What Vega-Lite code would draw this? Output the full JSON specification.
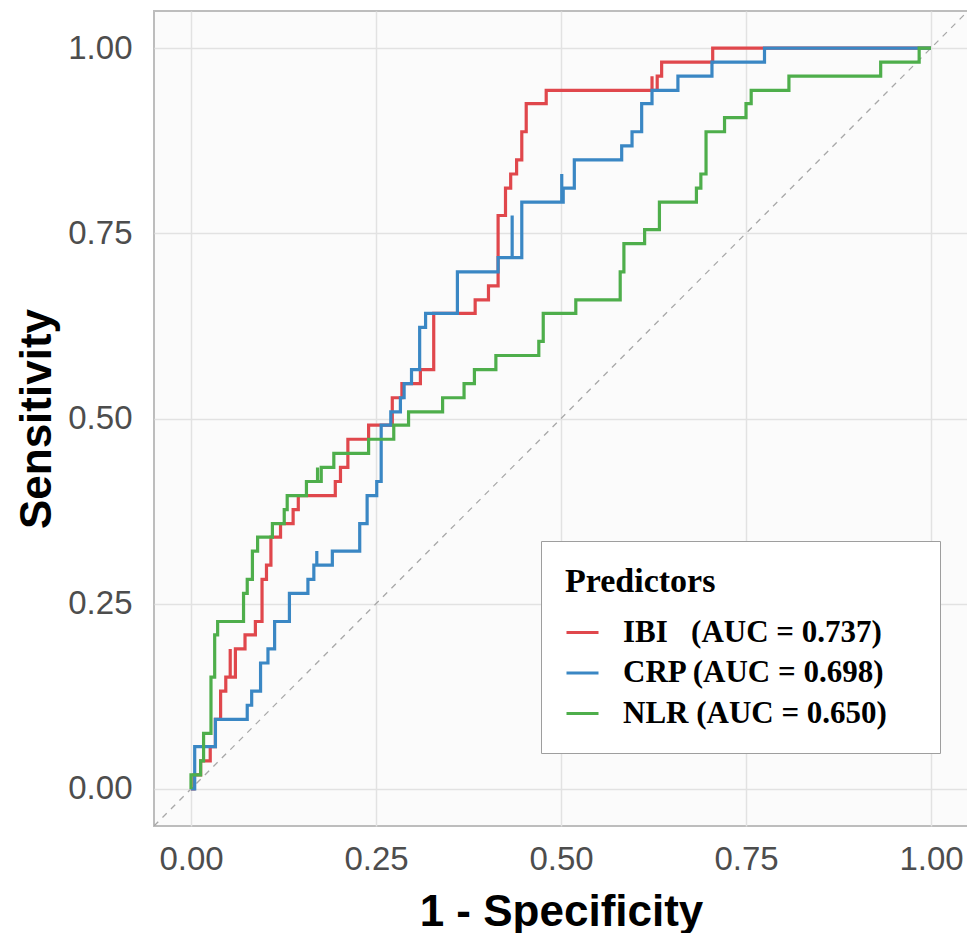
{
  "$schema": "https://vega.github.io/schema/vega-lite/v6.json",
  "width": 814,
  "height": 815,
  "autosize": "none",
  "padding": {"left": 154, "top": 11, "right": 0, "bottom": 107},
  "background": "white",
  "config": {
    "view": {"stroke": "#bdbdbd", "strokeWidth": 2, "fill": "#fbfbfb"},
    "font": "Liberation Sans"
  },
  "datasets": {
    "diag": [{"x": -0.05, "y": -0.05, "x2": 1.05, "y2": 1.05}],
    "roc": [
      {"p":"IBI","i":0,"x":0,"y":0},{"p":"IBI","i":1,"x":0.004,"y":0},{"p":"IBI","i":2,"x":0.004,"y":0.019},{"p":"IBI","i":3,"x":0.013,"y":0.019},{"p":"IBI","i":4,"x":0.013,"y":0.038},{"p":"IBI","i":5,"x":0.026,"y":0.038},{"p":"IBI","i":6,"x":0.026,"y":0.057},{"p":"IBI","i":7,"x":0.033,"y":0.057},{"p":"IBI","i":8,"x":0.033,"y":0.094},{"p":"IBI","i":9,"x":0.040,"y":0.094},{"p":"IBI","i":10,"x":0.040,"y":0.132},{"p":"IBI","i":11,"x":0.047,"y":0.132},{"p":"IBI","i":12,"x":0.047,"y":0.151},{"p":"IBI","i":13,"x":0.053,"y":0.151},{"p":"IBI","i":14,"x":0.053,"y":0.189},{"p":"IBI","i":15,"x":0.053,"y":0.151},{"p":"IBI","i":16,"x":0.060,"y":0.151},{"p":"IBI","i":17,"x":0.060,"y":0.189},{"p":"IBI","i":18,"x":0.073,"y":0.189},{"p":"IBI","i":19,"x":0.073,"y":0.208},{"p":"IBI","i":20,"x":0.087,"y":0.208},{"p":"IBI","i":21,"x":0.087,"y":0.226},{"p":"IBI","i":22,"x":0.096,"y":0.226},{"p":"IBI","i":23,"x":0.096,"y":0.283},{"p":"IBI","i":24,"x":0.102,"y":0.283},{"p":"IBI","i":25,"x":0.102,"y":0.302},{"p":"IBI","i":26,"x":0.108,"y":0.302},{"p":"IBI","i":27,"x":0.108,"y":0.340},{"p":"IBI","i":28,"x":0.121,"y":0.340},{"p":"IBI","i":29,"x":0.121,"y":0.358},{"p":"IBI","i":30,"x":0.138,"y":0.358},{"p":"IBI","i":31,"x":0.138,"y":0.377},{"p":"IBI","i":32,"x":0.145,"y":0.377},{"p":"IBI","i":33,"x":0.145,"y":0.396},{"p":"IBI","i":34,"x":0.195,"y":0.396},{"p":"IBI","i":35,"x":0.195,"y":0.415},{"p":"IBI","i":36,"x":0.202,"y":0.415},{"p":"IBI","i":37,"x":0.202,"y":0.434},{"p":"IBI","i":38,"x":0.212,"y":0.434},{"p":"IBI","i":39,"x":0.212,"y":0.472},{"p":"IBI","i":40,"x":0.240,"y":0.472},{"p":"IBI","i":41,"x":0.240,"y":0.491},{"p":"IBI","i":42,"x":0.272,"y":0.491},{"p":"IBI","i":43,"x":0.272,"y":0.528},{"p":"IBI","i":44,"x":0.285,"y":0.528},{"p":"IBI","i":45,"x":0.285,"y":0.547},{"p":"IBI","i":46,"x":0.310,"y":0.547},{"p":"IBI","i":47,"x":0.310,"y":0.566},{"p":"IBI","i":48,"x":0.328,"y":0.566},{"p":"IBI","i":49,"x":0.328,"y":0.642},{"p":"IBI","i":50,"x":0.384,"y":0.642},{"p":"IBI","i":51,"x":0.384,"y":0.660},{"p":"IBI","i":52,"x":0.402,"y":0.660},{"p":"IBI","i":53,"x":0.402,"y":0.679},{"p":"IBI","i":54,"x":0.415,"y":0.679},{"p":"IBI","i":55,"x":0.415,"y":0.774},{"p":"IBI","i":56,"x":0.425,"y":0.774},{"p":"IBI","i":57,"x":0.425,"y":0.811},{"p":"IBI","i":58,"x":0.432,"y":0.811},{"p":"IBI","i":59,"x":0.432,"y":0.830},{"p":"IBI","i":60,"x":0.440,"y":0.830},{"p":"IBI","i":61,"x":0.440,"y":0.849},{"p":"IBI","i":62,"x":0.447,"y":0.849},{"p":"IBI","i":63,"x":0.447,"y":0.887},{"p":"IBI","i":64,"x":0.453,"y":0.887},{"p":"IBI","i":65,"x":0.453,"y":0.925},{"p":"IBI","i":66,"x":0.480,"y":0.925},{"p":"IBI","i":67,"x":0.480,"y":0.943},{"p":"IBI","i":68,"x":0.623,"y":0.943},{"p":"IBI","i":69,"x":0.623,"y":0.962},{"p":"IBI","i":70,"x":0.623,"y":0.943},{"p":"IBI","i":71,"x":0.630,"y":0.943},{"p":"IBI","i":72,"x":0.630,"y":0.962},{"p":"IBI","i":73,"x":0.636,"y":0.962},{"p":"IBI","i":74,"x":0.636,"y":0.981},{"p":"IBI","i":75,"x":0.705,"y":0.981},{"p":"IBI","i":76,"x":0.705,"y":1.0},{"p":"IBI","i":77,"x":1.0,"y":1.0},
      {"p":"CRP","i":0,"x":0,"y":0},{"p":"CRP","i":1,"x":0.005,"y":0},{"p":"CRP","i":2,"x":0.005,"y":0.057},{"p":"CRP","i":3,"x":0.033,"y":0.057},{"p":"CRP","i":4,"x":0.033,"y":0.094},{"p":"CRP","i":5,"x":0.076,"y":0.094},{"p":"CRP","i":6,"x":0.076,"y":0.113},{"p":"CRP","i":7,"x":0.082,"y":0.113},{"p":"CRP","i":8,"x":0.082,"y":0.132},{"p":"CRP","i":9,"x":0.094,"y":0.132},{"p":"CRP","i":10,"x":0.094,"y":0.170},{"p":"CRP","i":11,"x":0.104,"y":0.170},{"p":"CRP","i":12,"x":0.104,"y":0.189},{"p":"CRP","i":13,"x":0.113,"y":0.189},{"p":"CRP","i":14,"x":0.113,"y":0.226},{"p":"CRP","i":15,"x":0.133,"y":0.226},{"p":"CRP","i":16,"x":0.133,"y":0.264},{"p":"CRP","i":17,"x":0.158,"y":0.264},{"p":"CRP","i":18,"x":0.158,"y":0.283},{"p":"CRP","i":19,"x":0.166,"y":0.283},{"p":"CRP","i":20,"x":0.166,"y":0.302},{"p":"CRP","i":21,"x":0.170,"y":0.302},{"p":"CRP","i":22,"x":0.170,"y":0.321},{"p":"CRP","i":23,"x":0.170,"y":0.302},{"p":"CRP","i":24,"x":0.191,"y":0.302},{"p":"CRP","i":25,"x":0.191,"y":0.321},{"p":"CRP","i":26,"x":0.228,"y":0.321},{"p":"CRP","i":27,"x":0.228,"y":0.358},{"p":"CRP","i":28,"x":0.238,"y":0.358},{"p":"CRP","i":29,"x":0.238,"y":0.396},{"p":"CRP","i":30,"x":0.251,"y":0.396},{"p":"CRP","i":31,"x":0.251,"y":0.415},{"p":"CRP","i":32,"x":0.257,"y":0.415},{"p":"CRP","i":33,"x":0.257,"y":0.491},{"p":"CRP","i":34,"x":0.270,"y":0.491},{"p":"CRP","i":35,"x":0.270,"y":0.509},{"p":"CRP","i":36,"x":0.283,"y":0.509},{"p":"CRP","i":37,"x":0.283,"y":0.528},{"p":"CRP","i":38,"x":0.288,"y":0.528},{"p":"CRP","i":39,"x":0.288,"y":0.547},{"p":"CRP","i":40,"x":0.298,"y":0.547},{"p":"CRP","i":41,"x":0.298,"y":0.566},{"p":"CRP","i":42,"x":0.309,"y":0.566},{"p":"CRP","i":43,"x":0.309,"y":0.623},{"p":"CRP","i":44,"x":0.317,"y":0.623},{"p":"CRP","i":45,"x":0.317,"y":0.642},{"p":"CRP","i":46,"x":0.360,"y":0.642},{"p":"CRP","i":47,"x":0.360,"y":0.698},{"p":"CRP","i":48,"x":0.415,"y":0.698},{"p":"CRP","i":49,"x":0.415,"y":0.717},{"p":"CRP","i":50,"x":0.434,"y":0.717},{"p":"CRP","i":51,"x":0.434,"y":0.774},{"p":"CRP","i":52,"x":0.434,"y":0.717},{"p":"CRP","i":53,"x":0.447,"y":0.717},{"p":"CRP","i":54,"x":0.447,"y":0.792},{"p":"CRP","i":55,"x":0.501,"y":0.792},{"p":"CRP","i":56,"x":0.501,"y":0.830},{"p":"CRP","i":57,"x":0.501,"y":0.792},{"p":"CRP","i":58,"x":0.503,"y":0.792},{"p":"CRP","i":59,"x":0.503,"y":0.811},{"p":"CRP","i":60,"x":0.518,"y":0.811},{"p":"CRP","i":61,"x":0.518,"y":0.849},{"p":"CRP","i":62,"x":0.582,"y":0.849},{"p":"CRP","i":63,"x":0.582,"y":0.868},{"p":"CRP","i":64,"x":0.596,"y":0.868},{"p":"CRP","i":65,"x":0.596,"y":0.887},{"p":"CRP","i":66,"x":0.609,"y":0.887},{"p":"CRP","i":67,"x":0.609,"y":0.925},{"p":"CRP","i":68,"x":0.623,"y":0.925},{"p":"CRP","i":69,"x":0.623,"y":0.943},{"p":"CRP","i":70,"x":0.658,"y":0.943},{"p":"CRP","i":71,"x":0.658,"y":0.962},{"p":"CRP","i":72,"x":0.704,"y":0.962},{"p":"CRP","i":73,"x":0.704,"y":0.981},{"p":"CRP","i":74,"x":0.775,"y":0.981},{"p":"CRP","i":75,"x":0.775,"y":1.0},{"p":"CRP","i":76,"x":1.0,"y":1.0},
      {"p":"NLR","i":0,"x":0,"y":0},{"p":"NLR","i":1,"x":0,"y":0.019},{"p":"NLR","i":2,"x":0.013,"y":0.019},{"p":"NLR","i":3,"x":0.013,"y":0.038},{"p":"NLR","i":4,"x":0.017,"y":0.038},{"p":"NLR","i":5,"x":0.017,"y":0.075},{"p":"NLR","i":6,"x":0.027,"y":0.075},{"p":"NLR","i":7,"x":0.027,"y":0.151},{"p":"NLR","i":8,"x":0.032,"y":0.151},{"p":"NLR","i":9,"x":0.032,"y":0.208},{"p":"NLR","i":10,"x":0.036,"y":0.208},{"p":"NLR","i":11,"x":0.036,"y":0.226},{"p":"NLR","i":12,"x":0.071,"y":0.226},{"p":"NLR","i":13,"x":0.071,"y":0.264},{"p":"NLR","i":14,"x":0.076,"y":0.264},{"p":"NLR","i":15,"x":0.076,"y":0.283},{"p":"NLR","i":16,"x":0.083,"y":0.283},{"p":"NLR","i":17,"x":0.083,"y":0.321},{"p":"NLR","i":18,"x":0.090,"y":0.321},{"p":"NLR","i":19,"x":0.090,"y":0.340},{"p":"NLR","i":20,"x":0.110,"y":0.340},{"p":"NLR","i":21,"x":0.110,"y":0.358},{"p":"NLR","i":22,"x":0.126,"y":0.358},{"p":"NLR","i":23,"x":0.126,"y":0.377},{"p":"NLR","i":24,"x":0.130,"y":0.377},{"p":"NLR","i":25,"x":0.130,"y":0.396},{"p":"NLR","i":26,"x":0.156,"y":0.396},{"p":"NLR","i":27,"x":0.156,"y":0.415},{"p":"NLR","i":28,"x":0.171,"y":0.415},{"p":"NLR","i":29,"x":0.171,"y":0.434},{"p":"NLR","i":30,"x":0.171,"y":0.415},{"p":"NLR","i":31,"x":0.176,"y":0.415},{"p":"NLR","i":32,"x":0.176,"y":0.434},{"p":"NLR","i":33,"x":0.193,"y":0.434},{"p":"NLR","i":34,"x":0.193,"y":0.453},{"p":"NLR","i":35,"x":0.240,"y":0.453},{"p":"NLR","i":36,"x":0.240,"y":0.472},{"p":"NLR","i":37,"x":0.274,"y":0.472},{"p":"NLR","i":38,"x":0.274,"y":0.491},{"p":"NLR","i":39,"x":0.294,"y":0.491},{"p":"NLR","i":40,"x":0.294,"y":0.509},{"p":"NLR","i":41,"x":0.340,"y":0.509},{"p":"NLR","i":42,"x":0.340,"y":0.528},{"p":"NLR","i":43,"x":0.369,"y":0.528},{"p":"NLR","i":44,"x":0.369,"y":0.547},{"p":"NLR","i":45,"x":0.383,"y":0.547},{"p":"NLR","i":46,"x":0.383,"y":0.566},{"p":"NLR","i":47,"x":0.412,"y":0.566},{"p":"NLR","i":48,"x":0.412,"y":0.585},{"p":"NLR","i":49,"x":0.470,"y":0.585},{"p":"NLR","i":50,"x":0.470,"y":0.604},{"p":"NLR","i":51,"x":0.476,"y":0.604},{"p":"NLR","i":52,"x":0.476,"y":0.642},{"p":"NLR","i":53,"x":0.520,"y":0.642},{"p":"NLR","i":54,"x":0.520,"y":0.660},{"p":"NLR","i":55,"x":0.580,"y":0.660},{"p":"NLR","i":56,"x":0.580,"y":0.698},{"p":"NLR","i":57,"x":0.585,"y":0.698},{"p":"NLR","i":58,"x":0.585,"y":0.736},{"p":"NLR","i":59,"x":0.613,"y":0.736},{"p":"NLR","i":60,"x":0.613,"y":0.755},{"p":"NLR","i":61,"x":0.633,"y":0.755},{"p":"NLR","i":62,"x":0.633,"y":0.792},{"p":"NLR","i":63,"x":0.683,"y":0.792},{"p":"NLR","i":64,"x":0.683,"y":0.811},{"p":"NLR","i":65,"x":0.689,"y":0.811},{"p":"NLR","i":66,"x":0.689,"y":0.830},{"p":"NLR","i":67,"x":0.696,"y":0.830},{"p":"NLR","i":68,"x":0.696,"y":0.887},{"p":"NLR","i":69,"x":0.721,"y":0.887},{"p":"NLR","i":70,"x":0.721,"y":0.906},{"p":"NLR","i":71,"x":0.750,"y":0.906},{"p":"NLR","i":72,"x":0.750,"y":0.925},{"p":"NLR","i":73,"x":0.757,"y":0.925},{"p":"NLR","i":74,"x":0.757,"y":0.943},{"p":"NLR","i":75,"x":0.808,"y":0.943},{"p":"NLR","i":76,"x":0.808,"y":0.962},{"p":"NLR","i":77,"x":0.932,"y":0.962},{"p":"NLR","i":78,"x":0.932,"y":0.981},{"p":"NLR","i":79,"x":0.984,"y":0.981},{"p":"NLR","i":80,"x":0.984,"y":1.0},{"p":"NLR","i":81,"x":1.0,"y":1.0}
    ]
  },
  "encoding": {
    "x": {
      "field": "x", "type": "quantitative",
      "scale": {"domain": [-0.05, 1.05], "nice": false, "zero": false},
      "axis": {
        "values": [0, 0.25, 0.5, 0.75, 1], "format": ".2f", "title": "1 - Specificity",
        "grid": true, "gridColor": "#e2e2e2", "gridWidth": 1.5,
        "domain": false, "ticks": false, "tickSize": 0, "labelFlush": false, "labelOverlap": false,
        "labelFont": "Liberation Sans", "labelFontSize": 33, "labelColor": "#4d4d4d", "labelPadding": 17,
        "titleFont": "Liberation Sans", "titleFontSize": 44, "titleFontWeight": "bold", "titleColor": "#000000", "titlePadding": 14
      }
    },
    "y": {
      "field": "y", "type": "quantitative",
      "scale": {"domain": [-0.05, 1.05], "nice": false, "zero": false},
      "axis": {
        "values": [0, 0.25, 0.5, 0.75, 1], "format": ".2f", "title": "Sensitivity",
        "grid": true, "gridColor": "#e2e2e2", "gridWidth": 1.5,
        "domain": false, "ticks": false, "tickSize": 0, "labelFlush": false, "labelOverlap": false,
        "labelFont": "Liberation Sans", "labelFontSize": 33, "labelColor": "#4d4d4d", "labelPadding": 22,
        "titleFont": "Liberation Sans", "titleFontSize": 44, "titleFontWeight": "bold", "titleColor": "#000000", "titlePadding": 8
      }
    }
  },
  "layer": [
    {
      "data": {"name": "diag"},
      "mark": {"type": "rule", "strokeDash": [6, 6], "color": "#a8a8a8", "strokeWidth": 1.3, "clip": true},
      "encoding": {"x2": {"field": "x2"}, "y2": {"field": "y2"}}
    },
    {
      "data": {"name": "roc"},
      "mark": {"type": "line", "strokeWidth": 3.2, "clip": true},
      "encoding": {
        "color": {
          "field": "p", "type": "nominal",
          "scale": {"domain": ["IBI", "CRP", "NLR"], "range": ["#e0474c", "#3a87c4", "#4eae4b"]},
          "legend": {
            "orient": "none", "legendX": 387, "legendY": 530,
            "title": "Predictors",
            "titleFont": "Liberation Serif", "titleFontSize": 34, "titleFontWeight": "bold", "titleColor": "#000000", "titlePadding": 16,
            "labelFont": "Liberation Serif", "labelFontSize": 31, "labelFontWeight": "bold", "labelColor": "#000000", "labelLimit": 600,
            "labelOffset": 23,
            "labelExpr": "datum.label == 'IBI' ? 'IBI\u00a0\u00a0\u00a0(AUC = 0.737)' : datum.label == 'CRP' ? 'CRP (AUC = 0.698)\u00a0\u2800' : 'NLR (AUC = 0.650)'",
            "symbolType": "stroke", "symbolStrokeWidth": 3, "symbolSize": 1024, "symbolOpacity": 1,
            "rowPadding": 7.5, "padding": 24,
            "fillColor": "#ffffff", "strokeColor": "#9e9e9e"
          }
        },
        "order": {"field": "i", "type": "quantitative"}
      }
    }
  ]
}
